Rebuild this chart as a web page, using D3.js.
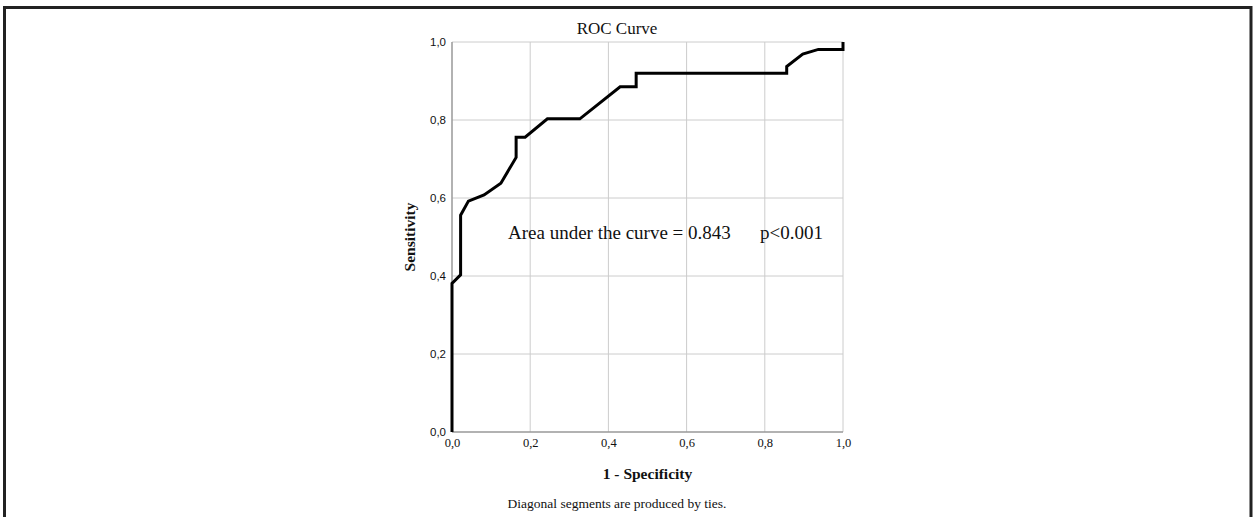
<!DOCTYPE html>
<html lang="en">
<head>
    <meta charset="UTF-8">
    <title>ROC Curve</title>
    <script src="https://d3js.org/d3.v7.min.js"></script>
    <style>
        body { margin: 0; background: white; }
        .grid line { stroke: #cccccc; stroke-width: 1; }
        .axis path { stroke: #999999; stroke-width: 1.5; }
        .axis line { display: none; }
        .x-axis text { font-family: "Liberation Serif", serif; font-size: 12.5px; fill: #111; }
        .y-axis text { font-family: "Liberation Sans", sans-serif; font-size: 11.5px; fill: #111; }
        text { fill: #111; }
    </style>
</head>
<body>
    <svg width="1253" height="517"></svg>

    <script>
        // ROC points
        const fpr = [0, 0, 0.022, 0.022, 0.042, 0.082, 0.125, 0.164, 0.164, 0.187, 0.244, 0.327, 0.430, 0.471, 0.471, 0.856, 0.856, 0.897, 0.937, 1.0, 1.0];
        const tpr = [0, 0.381, 0.403, 0.556, 0.592, 0.608, 0.638, 0.704, 0.756, 0.756, 0.803, 0.803, 0.885, 0.885, 0.920, 0.920, 0.937, 0.969, 0.981, 0.981, 1.0];
        const ticks = [0, 0.2, 0.4, 0.6, 0.8, 1.0];

        const svg = d3.select('svg');
        const margin = { top: 42, right: 410, bottom: 85, left: 452 };
        const width = +svg.attr('width');
        const height = +svg.attr('height');

        // outer frame (open at the bottom)
        svg.append('path')
            .attr('d', 'M4.5,517 L4.5,7.5 L1251,7.5 L1251,517')
            .attr('fill', 'none')
            .attr('stroke', '#222')
            .attr('stroke-width', 3);

        const x = d3.scaleLinear().domain([0, 1]).range([margin.left, width - margin.right]);
        const y = d3.scaleLinear().domain([0, 1]).range([height - margin.bottom, margin.top]);

        // grid
        const grid = svg.append('g').attr('class', 'grid');
        grid.selectAll('.v').data(ticks.slice(1)).enter().append('line')
            .attr('x1', d => x(d)).attr('x2', d => x(d))
            .attr('y1', y(0)).attr('y2', y(1));
        grid.selectAll('.h').data(ticks.slice(1)).enter().append('line')
            .attr('x1', x(0)).attr('x2', x(1))
            .attr('y1', d => y(d)).attr('y2', d => y(d));

        const fmt = d => d3.format('.1f')(d).replace('.', ',');

        svg.append('g')
            .attr('class', 'axis x-axis')
            .attr('transform', `translate(0,${y(0)})`)
            .call(d3.axisBottom(x).tickValues(ticks).tickFormat(fmt).tickSize(0).tickPadding(6))
            .call(g => g.select('.domain').attr('d', `M${x(0)},0H${x(1)}`));

        svg.append('g')
            .attr('class', 'axis y-axis')
            .attr('transform', `translate(${x(0)},0)`)
            .call(d3.axisLeft(y).tickValues(ticks).tickFormat(fmt).tickSize(0).tickPadding(6))
            .call(g => g.select('.domain').attr('d', `M0,${y(0)}V${y(1)}`));

        // ROC curve
        const line = d3.line()
            .x((d, i) => x(fpr[i]))
            .y((d, i) => y(tpr[i]));

        svg.append('path')
            .datum(fpr)
            .attr('d', line)
            .attr('fill', 'none')
            .attr('stroke', '#000')
            .attr('stroke-width', 3)
            .attr('stroke-linejoin', 'miter');

        const serif = '"Liberation Serif", serif';

        // title
        svg.append('text')
            .attr('x', 617)
            .attr('y', 34)
            .attr('text-anchor', 'middle')
            .style('font-family', serif)
            .style('font-size', '17px')
            .text('ROC Curve');

        // annotation
        svg.append('text')
            .attr('x', 508)
            .attr('y', 239)
            .style('font-family', serif)
            .style('font-size', '19px')
            .text('Area under the curve = 0.843');
        svg.append('text')
            .attr('x', 760)
            .attr('y', 239)
            .style('font-family', serif)
            .style('font-size', '19px')
            .text('p<0.001');

        // axis labels
        svg.append('text')
            .attr('x', (x(0) + x(1)) / 2)
            .attr('y', 479)
            .attr('text-anchor', 'middle')
            .style('font-family', serif)
            .style('font-size', '15.5px')
            .style('font-weight', 'bold')
            .text('1 - Specificity');

        svg.append('text')
            .attr('transform', 'rotate(-90)')
            .attr('x', -237)
            .attr('y', 415)
            .attr('text-anchor', 'middle')
            .style('font-family', serif)
            .style('font-size', '15.5px')
            .style('font-weight', 'bold')
            .text('Sensitivity');

        // footnote
        svg.append('text')
            .attr('x', 617)
            .attr('y', 508)
            .attr('text-anchor', 'middle')
            .style('font-family', serif)
            .style('font-size', '13.5px')
            .text('Diagonal segments are produced by ties.');
    </script>
</body>
</html>
